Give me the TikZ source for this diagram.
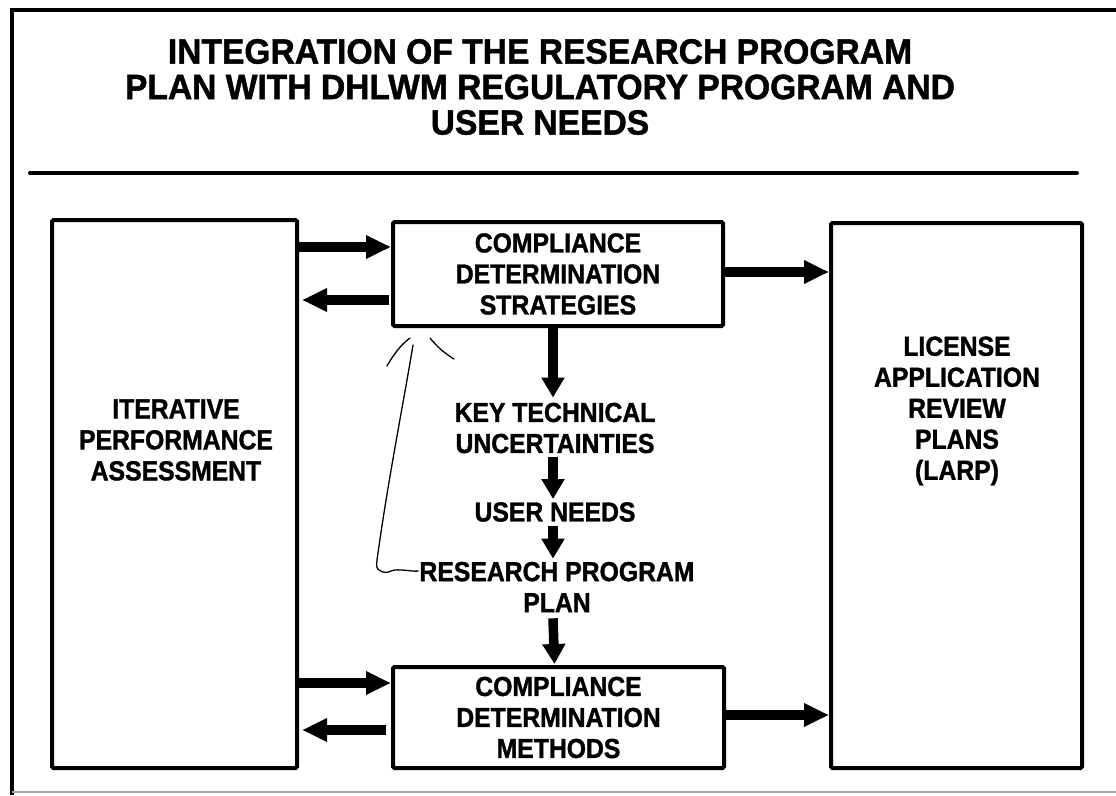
\documentclass[tikz,border=0pt]{standalone}
\usepackage{fontspec}
\setmainfont{Liberation Sans}
\newfontfamily\boxfont{Liberation Sans}[FakeStretch=0.9,BoldFeatures={FakeBold=1.3}]
\newfontfamily\headfont{Liberation Sans}[FakeStretch=0.96,BoldFeatures={FakeBold=1.3}]
\usetikzlibrary{arrows.meta,calc}

\begin{document}
\begin{tikzpicture}[x=1pt,y=-1pt,
  boxframe/.style={draw=black,line width=4pt,rounded corners=1.5pt,inner sep=0pt},
  labeltext/.style={font=\boxfont\fontsize{27.5}{31}\selectfont\bfseries,align=center,inner sep=0pt},
  bigarrow/.style={line width=9.5pt,-{Triangle[length=25pt,width=22pt]}},
  downarrow/.style={line width=9.5pt,-{Triangle[length=20pt,width=22pt]}},
  pen/.style={line width=1.3pt,line cap=round,line join=round}]

  \useasboundingbox (0,0) rectangle (1116,795);

  % page frame
  \draw[line width=4pt] (1116,10) -- (12,10) -- (12,795);
  \draw[gray!70,line width=1.5pt] (12,792) -- (1116,792);

  % title and rule
  \node[font=\headfont\fontsize{35}{35.5}\selectfont\bfseries,align=center,inner sep=0pt]
    (title) at (540,87) {INTEGRATION OF THE RESEARCH PROGRAM\\PLAN WITH DHLWM REGULATORY PROGRAM AND\\USER NEEDS};
  \draw[line width=4pt,line cap=round] (30,173) -- (1077,173);

  % boxes
  \node[boxframe,minimum width=245pt,minimum height=548pt] (ipa) at (174.5,494) {};
  \node[labeltext] at (176,440) {ITERATIVE\\PERFORMANCE\\ASSESSMENT};

  \node[boxframe,minimum width=251pt,minimum height=545pt] (larp) at (956.5,495.5) {};
  \node[labeltext] at (957,411) {LICENSE\\APPLICATION\\REVIEW\\PLANS\\(LARP)};

  \node[boxframe,minimum width=330pt,minimum height=104pt,labeltext] (cds) at (558,274)
    {COMPLIANCE\\DETERMINATION\\STRATEGIES};
  \node[boxframe,minimum width=331pt,minimum height=101pt,labeltext] (cdm) at (558.5,717.5)
    {COMPLIANCE\\DETERMINATION\\METHODS};

  % middle column
  \node[labeltext] (ktu) at (555,428) {KEY TECHNICAL\\UNCERTAINTIES};
  \node[labeltext] (un) at (555,512) {USER NEEDS};
  \node[labeltext] (rpp) at (557,587) {RESEARCH PROGRAM\\PLAN};

  % horizontal arrows
  \coordinate (a1) at ([yshift=27pt]cds.west);
  \coordinate (a2) at ([yshift=-26pt]cds.west);
  \coordinate (a3) at ([yshift=2pt]cds.east);
  \coordinate (b1) at ([yshift=34.5pt]cdm.west);
  \coordinate (b2) at ([yshift=-12.5pt]cdm.west);
  \coordinate (b3) at ([yshift=2.5pt]cdm.east);
  \draw[bigarrow] (ipa.east |- a1) -- (a1);
  \draw[bigarrow] ([xshift=-2pt]a2) -- ([xshift=3pt]ipa.east |- a2);
  \draw[bigarrow] (a3) -- (larp.west |- a3);
  \draw[bigarrow] (ipa.east |- b1) -- (b1);
  \draw[bigarrow] ([xshift=-5pt]b2) -- ([xshift=3pt]ipa.east |- b2);
  \draw[bigarrow] (b3) -- (larp.west |- b3);

  % vertical arrows
  \draw[downarrow] ([xshift=-5pt]cds.south) -- ([xshift=-5pt,yshift=5pt]cds.south |- ktu.north);
  \draw[downarrow] ([xshift=-2pt]ktu.south) ++(0,4) -- ([xshift=-2pt,yshift=3pt]ktu.south |- un.north);
  \draw[downarrow] ([xshift=-2pt]un.south) ++(0,4) -- ([xshift=-2pt,yshift=3pt]un.south |- rpp.north);
  \draw[downarrow] ([xshift=-4pt]rpp.south) ++(0,6) -- ([xshift=-4pt,yshift=1pt]cdm.north);

  % pen marks from the plan back to the strategies
  \coordinate (penstart) at ([xshift=-1pt,yshift=16pt]rpp.west);
  \draw[pen] (penstart) .. controls ([xshift=-6pt,yshift=-1pt]penstart) and (398,568) .. (391,571)
     .. controls (387,573) and (383,573) .. (379,570)
     .. controls (377,569) and (376,566) .. (377,560)
     .. controls (388,480) and (404,400) .. (413,345);
  \draw[pen] (387,366) .. controls (395,352) and (402,344) .. (410,338);
  \draw[pen] (430,338) .. controls (438,348) and (446,354) .. (454,359);
\end{tikzpicture}
\end{document}
